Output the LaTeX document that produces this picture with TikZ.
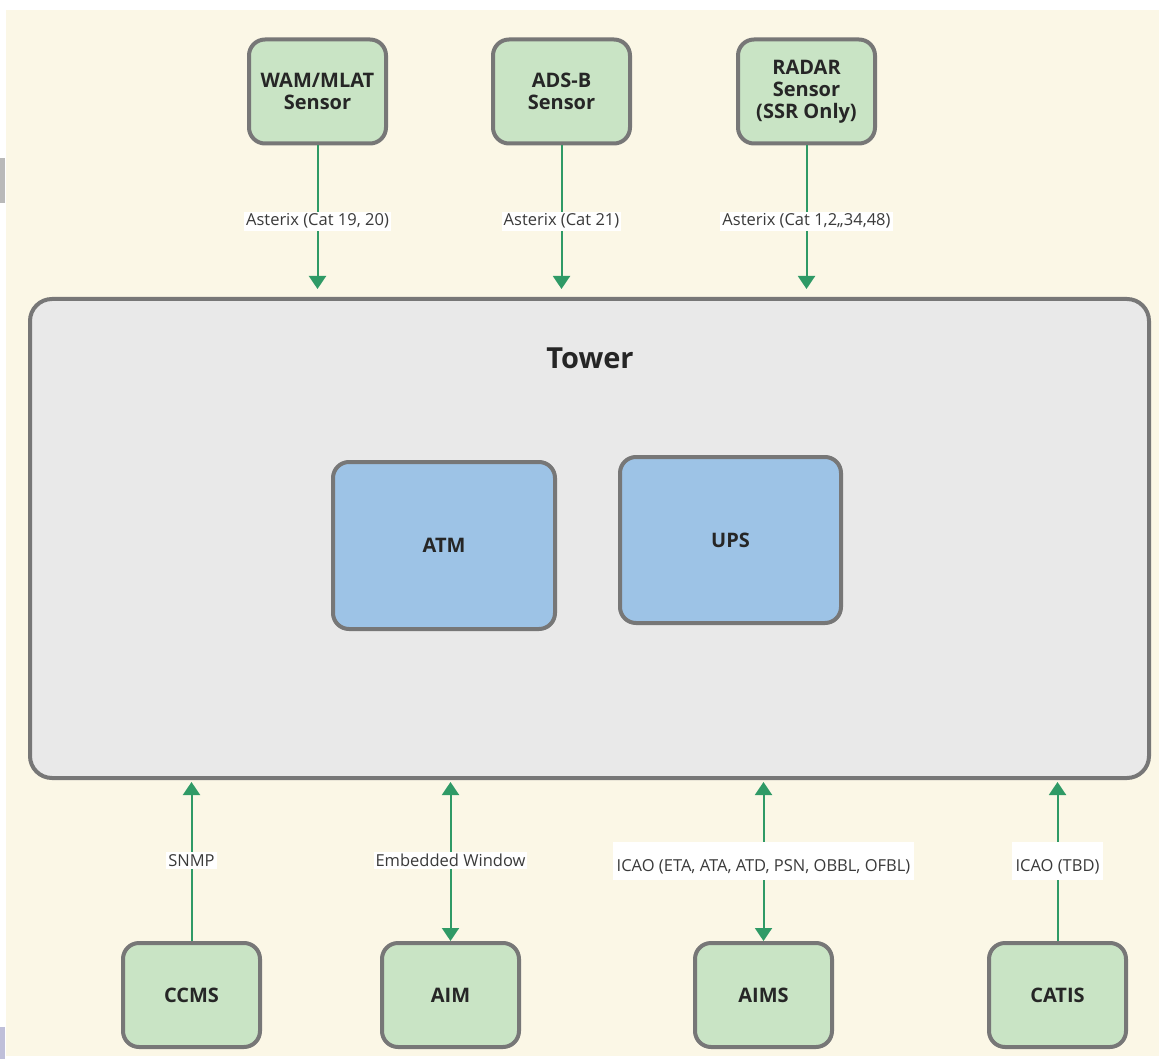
\documentclass[tikz,border=0pt]{standalone}
\usepackage{fontspec}
\setmainfont{Open Sans}
\usetikzlibrary{arrows.meta,positioning}
\definecolor{cream}{HTML}{FBF7E6}
\definecolor{boxgrey}{HTML}{777777}
\definecolor{sensorgreen}{HTML}{C9E4C5}
\definecolor{unitblue}{HTML}{9DC3E6}
\definecolor{towergrey}{HTML}{E9E9E9}
\definecolor{linkgreen}{HTML}{2F9A66}
\definecolor{textdark}{HTML}{262626}
\definecolor{labeltext}{HTML}{3A3A3A}
\tikzset{linktip/.tip={Triangle[width=17pt,length=13pt]}}

\begin{document}
\begin{tikzpicture}[x=1pt,y={(0pt,-1pt)},
	box/.style={draw=boxgrey,line width=4pt,rounded corners=16pt,align=center,text=textdark,font=\fontsize{20}{22}\selectfont\bfseries},
	sensor/.style={box,fill=sensorgreen,minimum width=137pt,minimum height=104pt},
	unit/.style={box,fill=unitblue,minimum width=222pt,minimum height=167pt},
	link/.style={draw=linkgreen,fill=linkgreen,line width=2pt},
	lbl/.style={fill=white,text=labeltext,inner xsep=2pt,inner ysep=2pt,font=\fontsize{16.5}{18}\selectfont},
	tall/.style={text height=26pt,text depth=4pt,inner ysep=4pt,inner xsep=4pt}]
	\useasboundingbox (0,0) rectangle (1159,1059);
	\fill[white] (0,0) rectangle (1159,1059);
	\fill[cream] (6,10) rectangle (1159,1056);
	\fill[gray!55] (0,158) rectangle (5,203);
	\fill[gray!75!blue!40] (0,1027) rectangle (5,1059);
	% tower and its units
	\node[box,fill=towergrey,minimum width=1119pt,minimum height=479pt,rounded corners=22pt] (tower) at (589.5,538.5) {};
	\node[font=\fontsize{29}{32}\selectfont\bfseries,text=textdark] (title) at (590,358) {Tower};
	\node[unit] (atm) at (444,545.5) {ATM};
	\node[unit,minimum width=221pt,minimum height=166pt] (ups) at (730.5,540) {UPS};
	% sensors
	\node[sensor] (wam) at (317.5,91.5) {WAM/MLAT\\Sensor};
	\node[sensor] (adsb) at (561.5,91.5) {ADS-B\\Sensor};
	\node[sensor] (radar) at (806.5,91.5) {RADAR\\Sensor\\(SSR Only)};
	% external systems
	\node[sensor] (ccms) at (191.5,995) {CCMS};
	\node[sensor] (aim) at (450.5,995) {AIM};
	\node[sensor] (aims) at (763.5,995) {AIMS};
	\node[sensor] (catis) at (1057.5,995) {CATIS};
	\coordinate (wamin) at (wam |- tower.north);
	\coordinate (adsbin) at (adsb |- tower.north);
	\coordinate (radarin) at (radar |- tower.north);
	\coordinate (ccmsin) at (ccms |- tower.south);
	\coordinate (aimin) at (aim |- tower.south);
	\coordinate (aimsin) at (aims |- tower.south);
	\coordinate (catisin) at (catis |- tower.south);
	\draw[link,-linktip,shorten >=8pt] (wam) -- node[lbl] {Asterix (Cat 19, 20)} (wamin);
	\draw[link,-linktip,shorten >=8pt] (adsb) -- node[lbl] {Asterix (Cat 21)} (adsbin);
	\draw[link,-linktip,shorten >=8pt] (radar) -- node[lbl] {Asterix (Cat 1,2,,34,48)} (radarin);
	\draw[link,-linktip,shorten >=2pt] (ccms) -- node[lbl] {SNMP} (ccmsin);
	\draw[link,linktip-linktip,shorten >=2pt] (aim) -- node[lbl] {Embedded Window} (aimin);
	\draw[link,linktip-linktip,shorten >=2pt] (aims) -- node[lbl,tall] {ICAO (ETA, ATA, ATD, PSN, OBBL, OFBL)} (aimsin);
	\draw[link,-linktip,shorten >=2pt] (catis) -- node[lbl,tall] {ICAO (TBD)} (catisin);
\end{tikzpicture}
\end{document}
